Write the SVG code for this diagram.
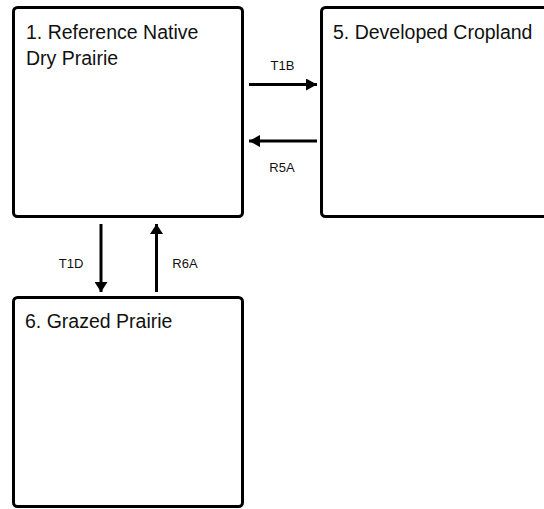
<svg xmlns="http://www.w3.org/2000/svg" width="544" height="509" viewBox="0 0 544 509">
  <style>
    .box { fill: #ffffff; stroke: #000000; stroke-width: 3; }
    .title { font-family: "Liberation Sans", Arial, sans-serif; font-size: 19.5px; fill: #111111; }
    .lbl { font-family: "Liberation Sans", Arial, sans-serif; font-size: 13px; fill: #111111; text-anchor: middle; }
    .conn { stroke: #000000; stroke-width: 3; fill: none; }
    .h { marker-end: url(#head-h); }
    .v { marker-end: url(#head-v); }
  </style>
  <defs>
    <!-- horizontal arrowhead: 11 long, 12 wide -->
    <marker id="head-h" viewBox="0 0 11 12" refX="11" refY="6" markerWidth="11" markerHeight="12" markerUnits="userSpaceOnUse" orient="auto">
      <path d="M0,0 L11,6 L0,12 Z" fill="#000000"/>
    </marker>
    <!-- vertical arrowhead: 10 long, 13 wide -->
    <marker id="head-v" viewBox="0 0 10 13" refX="10" refY="6.5" markerWidth="10" markerHeight="13" markerUnits="userSpaceOnUse" orient="auto">
      <path d="M0,0 L10,6.5 L0,13 Z" fill="#000000"/>
    </marker>
  </defs>
  <rect width="544" height="509" fill="#ffffff"/>

  <g id="node-1">
    <rect class="box" x="13.5" y="7.5" width="229" height="209" rx="4"/>
    <text class="title" x="26" y="38.5">1. Reference Native</text>
    <text class="title" x="26" y="65">Dry Prairie</text>
  </g>

  <g id="node-5">
    <rect class="box" x="321.5" y="7.5" width="240" height="209" rx="4"/>
    <text class="title" x="333" y="38.5">5. Developed Cropland</text>
  </g>

  <g id="node-6">
    <rect class="box" x="13.5" y="297.5" width="229" height="209" rx="4"/>
    <text class="title" x="25" y="328">6. Grazed Prairie</text>
  </g>

  <g id="connectors">
    <line class="conn h" x1="249" y1="84.5" x2="317" y2="84.5"/>
    <text class="lbl" x="282.5" y="70">T1B</text>
    <line class="conn h" x1="317" y1="141" x2="249" y2="141"/>
    <text class="lbl" x="282" y="172">R5A</text>
    <line class="conn v" x1="101" y1="224" x2="101" y2="292"/>
    <text class="lbl" x="71" y="268">T1D</text>
    <line class="conn v" x1="156.5" y1="292" x2="156.5" y2="224"/>
    <text class="lbl" x="185" y="268">R6A</text>
  </g>
</svg>
